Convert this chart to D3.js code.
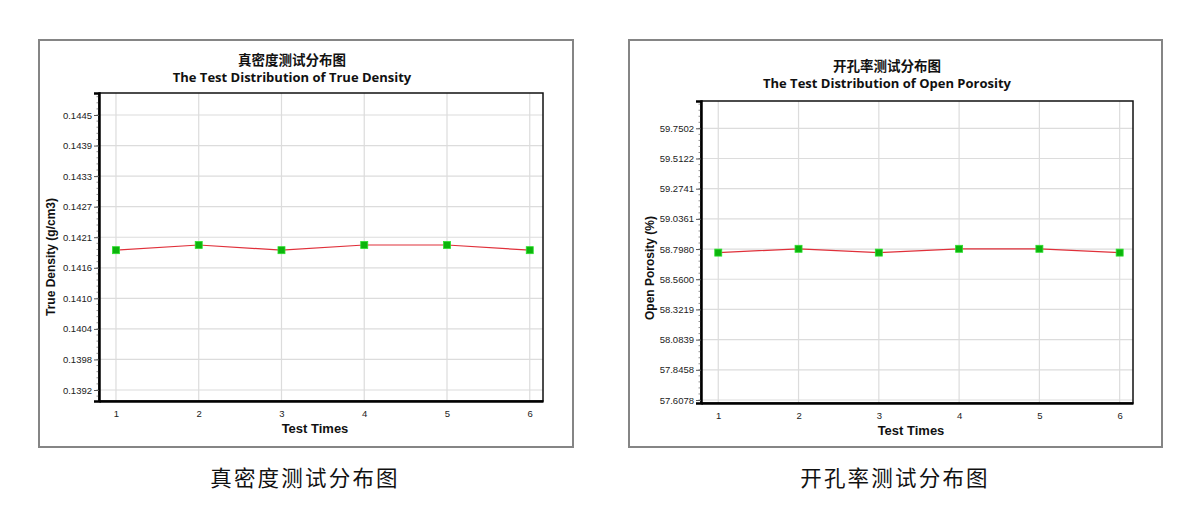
<!DOCTYPE html>
<html><head><meta charset="utf-8">
<script src="https://cdn.jsdelivr.net/npm/d3@7"></script>
<style>
html,body{margin:0;padding:0;background:#fff;}
svg{display:block;}
</style></head>
<body>
<svg id="c" width="1200" height="525"></svg>
<script>
// ---- data ----
const testTimes = [1, 2, 3, 4, 5, 6];
const trueDensity = [0.1419, 0.1420, 0.1419, 0.1420, 0.1420, 0.1419];
const openPorosity = [58.77, 58.80, 58.77, 58.80, 58.80, 58.77];
const densityTickValues = [0.1392, 0.13979, 0.14038, 0.14097, 0.14156, 0.14215, 0.14274, 0.14333, 0.14392, 0.14451];
const densityTickLabels = ["0.1392","0.1398","0.1404","0.1410","0.1416","0.1421","0.1427","0.1433","0.1439","0.1445"];
const porosityTickValues = [57.6078, 57.8458, 58.0839, 58.3219, 58.5600, 58.7980, 59.0361, 59.2741, 59.5122, 59.7502];
const porosityTickLabels = ["57.6078","57.8458","58.0839","58.3219","58.5600","58.7980","59.0361","59.2741","59.5122","59.7502"];
const xTickLabels = ["1","2","3","4","5","6"];

const charts = [
  {
    titleCn: "真密度测试分布图", titleEn: "The Test Distribution of True Density",
    yLabel: "True Density (g/cm3)", xLabel: "Test Times", caption: "真密度测试分布图",
    values: trueDensity, tickValues: densityTickValues, tickLabels: densityTickLabels,
    box: {x: 39, y: 40, w: 534, h: 407},
    plot: {l: 99, r: 543, t: 93, b: 401},
    yDomain: [0.1389876, 0.144935], xDomain: [0.795, 6.16],
    titleX: 292, titleY1: 65, titleY2: 82,
    yLabelX: 55, yLabelY: 257, xLabelX: 315, captionX: 305
  },
  {
    titleCn: "开孔率测试分布图", titleEn: "The Test Distribution of Open Porosity",
    yLabel: "Open Porosity (%)", xLabel: "Test Times", caption: "开孔率测试分布图",
    values: openPorosity, tickValues: porosityTickValues, tickLabels: porosityTickLabels,
    box: {x: 629, y: 40, w: 533, h: 407},
    plot: {l: 701, r: 1133, t: 101, b: 403},
    yDomain: [57.5841, 59.9655], xDomain: [0.785, 6.166],
    titleX: 887, titleY1: 71, titleY2: 88,
    yLabelX: 654, yLabelY: 268, xLabelX: 911, captionX: 895
  }
];

const svg = d3.select("#c");

charts.forEach(c => {
  const g = svg.append("g");
  g.append("rect").attr("x", c.box.x).attr("y", c.box.y).attr("width", c.box.w).attr("height", c.box.h)
    .attr("fill", "#fff").attr("stroke", "#858585").attr("stroke-width", 2);

  const x = d3.scaleLinear().domain(c.xDomain).range([c.plot.l, c.plot.r]);
  const y = d3.scaleLinear().domain(c.yDomain).range([c.plot.b, c.plot.t]);

  // grid
  g.append("g").selectAll("line").data(c.tickValues).join("line")
    .attr("x1", c.plot.l).attr("x2", c.plot.r).attr("y1", d => y(d)).attr("y2", d => y(d))
    .attr("stroke", "#dcdcdc").attr("stroke-width", 1.2);
  g.append("g").selectAll("line").data(testTimes).join("line")
    .attr("y1", c.plot.t).attr("y2", c.plot.b).attr("x1", d => x(d)).attr("x2", d => x(d))
    .attr("stroke", "#dcdcdc").attr("stroke-width", 1.2);

  // plot frame
  g.append("rect").attr("x", c.plot.l).attr("y", c.plot.t)
    .attr("width", c.plot.r - c.plot.l).attr("height", c.plot.b - c.plot.t)
    .attr("fill", "none").attr("stroke", "#111").attr("stroke-width", 1.5);

  // minor ticks on y
  const step = c.tickValues[1] - c.tickValues[0];
  const minor = [];
  for (let v = c.tickValues[0] - step; v <= c.yDomain[1]; v += step / 5) {
    if (v >= c.yDomain[0]) minor.push(v);
  }
  g.append("g").selectAll("line").data(minor).join("line")
    .attr("x1", c.plot.l - 2.5).attr("x2", c.plot.l).attr("y1", d => y(d)).attr("y2", d => y(d))
    .attr("stroke", "#777").attr("stroke-width", 0.8);

  // y axis
  const yAxis = d3.axisLeft(y).tickValues(c.tickValues)
    .tickFormat((d, i) => c.tickLabels[i]).tickSize(5).tickPadding(2);
  const ya = g.append("g").attr("transform", `translate(${c.plot.l},0)`).call(yAxis);
  ya.select(".domain").attr("stroke", "#000").attr("stroke-width", 2.5);
  ya.selectAll(".tick line").attr("stroke", "#555");
  ya.selectAll("text").attr("font-family", "Liberation Sans, Arial, sans-serif")
    .attr("font-size", 9.5).attr("fill", "#222");

  // x axis
  const xAxis = d3.axisBottom(x).tickValues(testTimes)
    .tickFormat((d, i) => xTickLabels[i]).tickSize(0).tickPadding(9);
  const xa = g.append("g").attr("transform", `translate(0,${c.plot.b})`).call(xAxis);
  xa.select(".domain").attr("stroke", "#000").attr("stroke-width", 2.5);
  xa.selectAll("text").attr("font-family", "Liberation Sans, Arial, sans-serif")
    .attr("font-size", 9.5).attr("fill", "#222");

  // line + markers
  const line = d3.line().x((d, i) => x(testTimes[i])).y(d => y(d));
  g.append("path").datum(c.values).attr("d", line)
    .attr("fill", "none").attr("stroke", "#e0303a").attr("stroke-width", 1.2);
  g.append("g").selectAll("rect").data(c.values).join("rect")
    .attr("x", (d, i) => x(testTimes[i]) - 3.5).attr("y", d => y(d) - 3.5)
    .attr("width", 7).attr("height", 7)
    .attr("fill", "#0cb40c").attr("stroke", "#2ee02e").attr("stroke-width", 0.8);

  // titles
  g.append("text").attr("x", c.titleX).attr("y", c.titleY1).attr("text-anchor", "middle")
    .attr("font-family", "Noto Sans CJK SC, sans-serif").attr("font-weight", "bold")
    .attr("font-size", 13.5).attr("fill", "#111").text(c.titleCn);
  g.append("text").attr("x", c.titleX).attr("y", c.titleY2).attr("text-anchor", "middle")
    .attr("font-family", "Open Sans, sans-serif").attr("font-weight", "bold")
    .attr("font-size", 13).attr("fill", "#111").text(c.titleEn);

  // y label
  g.append("text").attr("transform", `translate(${c.yLabelX},${c.yLabelY}) rotate(-90)`)
    .attr("text-anchor", "middle").attr("font-family", "Liberation Sans, Arial, sans-serif")
    .attr("font-weight", "bold").attr("font-size", 12).attr("fill", "#111").text(c.yLabel);

  // x label
  g.append("text").attr("x", c.xLabelX).attr("y", c.plot.b + 32).attr("text-anchor", "middle")
    .attr("font-family", "Liberation Sans, Arial, sans-serif")
    .attr("font-weight", "bold").attr("font-size", 13).attr("fill", "#111").text(c.xLabel);

  // caption
  svg.append("text").attr("x", c.captionX).attr("y", 486).attr("text-anchor", "middle")
    .attr("font-family", "Noto Sans CJK SC, sans-serif").attr("font-size", 21.5)
    .attr("letter-spacing", 2.2).attr("fill", "#111").text(c.caption);
});
</script>
</body></html>
